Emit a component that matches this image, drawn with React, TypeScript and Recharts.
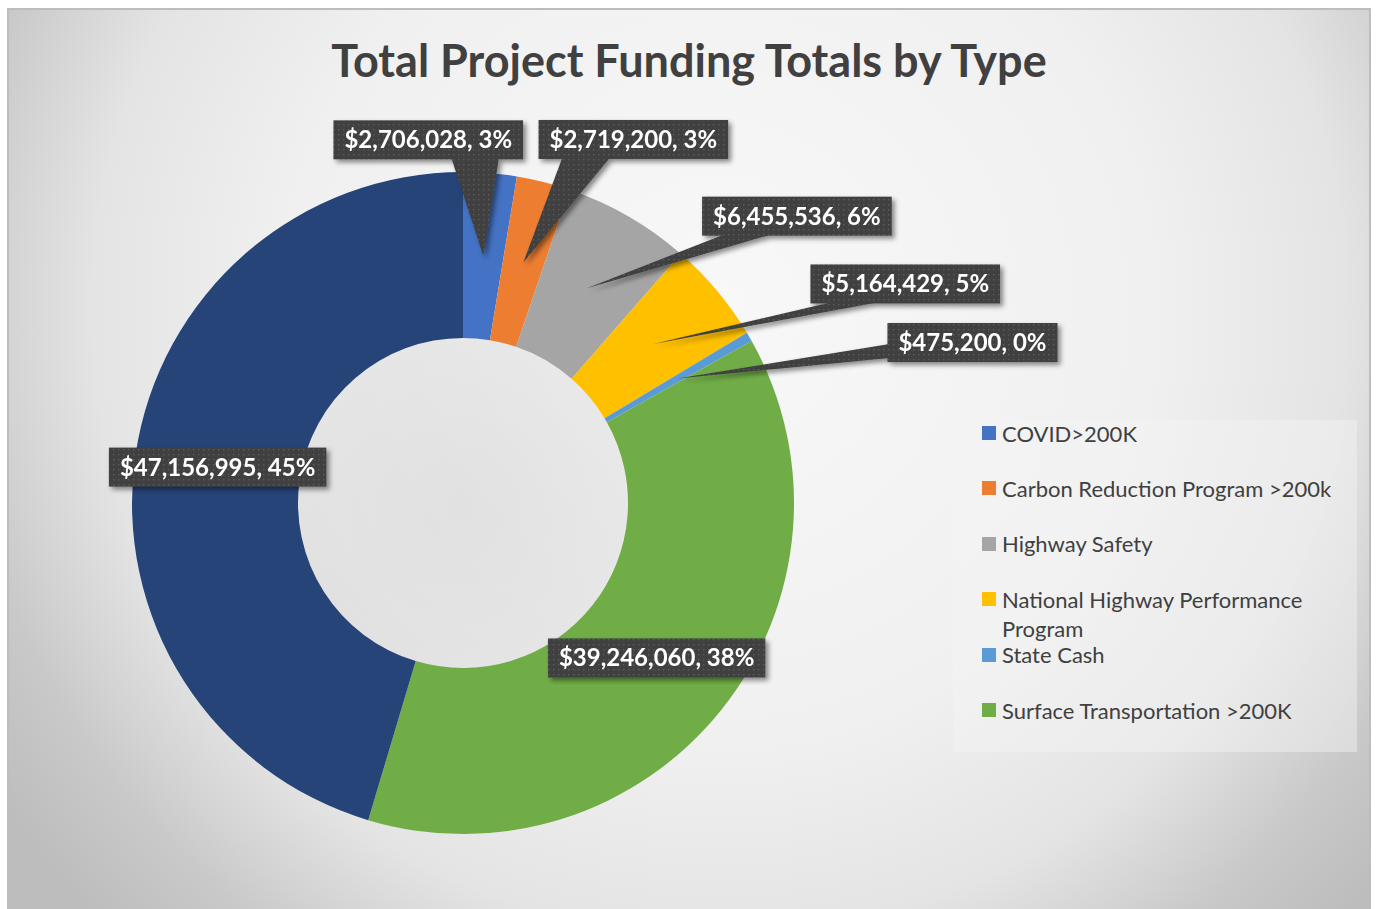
import React from 'react';
import { PieChart, Pie, Cell, Legend } from 'recharts';

const categories = [
  'COVID>200K',
  'Carbon Reduction Program >200k',
  'Highway Safety',
  'National Highway Performance Program',
  'State Cash',
  'Surface Transportation >200K',
  '',
];
const values = [2706028, 2719200, 6455536, 5164429, 475200, 39246060, 47156995];
const colors = ['#4472C4', '#ED7D31', '#A5A5A5', '#FFC000', '#5B9BD5', '#70AD47', '#264478'];
const legendLines: string[][] = [
  ['COVID>200K'],
  ['Carbon Reduction Program >200k'],
  ['Highway Safety'],
  ['National Highway Performance', 'Program'],
  ['State Cash'],
  ['Surface Transportation >200K'],
];

// callout offsets (box centre relative to the slice's mid-ring point); null = label sits on slice
const labelOffsets: ([number, number, 'bottom' | 'left'] | null)[] = [
  [-55, -116, 'bottom'],
  [110, -123, 'bottom'],
  [210, -72, 'bottom'],
  [252, -60, 'bottom'],
  [295, -36, 'left'],
  null,
  null,
];

const data = categories.map((name, i) => ({ name, value: values[i] }));

const RADIAN = Math.PI / 180;
const LABEL_FONT_SIZE = 24;
const FONT = 'Lato, "Open Sans", sans-serif';

let ctx: CanvasRenderingContext2D | null = null;
const measure = (text: string, font: string) => {
  if (!ctx) ctx = document.createElement('canvas').getContext('2d');
  if (!ctx) return text.length * 12;
  ctx.font = font;
  return ctx.measureText(text).width;
};

const DataLabel = (props: any) => {
  const { cx, cy, midAngle, innerRadius, outerRadius, index, value, percent } = props;
  const r = (innerRadius + outerRadius) / 2;
  const ax = cx + r * Math.cos(-midAngle * RADIAN);
  const ay = cy + r * Math.sin(-midAngle * RADIAN);
  const text = `$${Number(value).toLocaleString('en-US')}, ${Math.round(percent * 100)}%`;
  const tw = measure(text, `bold ${LABEL_FONT_SIZE}px Lato`);
  const w = tw + 22;
  const h = 39;
  const off = labelOffsets[index];
  const bcx = ax + (off ? off[0] : 0);
  const bcy = ay + (off ? off[1] : 0);
  const left = bcx - w / 2;
  const top = bcy - h / 2;
  let wedge: string | null = null;
  if (off) {
    if (off[2] === 'bottom') {
      const bx = Math.min(Math.max(ax, left + 48), left + w - 48);
      wedge = `${ax},${ay} ${bx - 24},${top + h - 2} ${bx + 24},${top + h - 2}`;
    } else {
      wedge = `${ax},${ay} ${left + 2},${top + 21} ${left + 2},${top + 35}`;
    }
  }
  return (
    <g filter="url(#lblShadow)">
      {wedge && <polygon points={wedge} fill="url(#dotPat)" />}
      <rect x={left} y={top} width={w} height={h} fill="url(#dotPat)" />
      <text
        x={left + 11}
        y={bcy + 8.5}
        fill="#ffffff"
        fontFamily={FONT}
        fontWeight={700}
        fontSize={LABEL_FONT_SIZE}
      >
        {text}
      </text>
    </g>
  );
};

const LegendBox = () => (
  <div
    style={{
      position: 'relative',
      width: 404,
      height: 332,
      background: 'rgba(245,245,245,0.45)',
      fontFamily: FONT,
      color: '#404040',
      fontSize: 22,
    }}
  >
    {legendLines.map((lines, i) => {
      const cyRow = 13 + i * 55.4;
      return (
        <React.Fragment key={i}>
          <div
            style={{
              position: 'absolute',
              left: 29,
              top: cyRow - 7,
              width: 14,
              height: 14,
              background: colors[i],
            }}
          />
          {lines.map((ln, j) => (
            <div
              key={j}
              style={{
                position: 'absolute',
                left: 49,
                top: cyRow - 14.5 + j * 29,
                lineHeight: '29px',
                whiteSpace: 'nowrap',
              }}
            >
              {ln}
            </div>
          ))}
        </React.Fragment>
      );
    })}
  </div>
);

export default function App() {
  return (
    <div
      style={{
        position: 'absolute',
        left: 7,
        top: 8,
        width: 1364,
        height: 901,
        boxSizing: 'border-box',
        borderTop: '2px solid #bdbdbd',
        borderLeft: '2px solid #bdbdbd',
        borderRight: '2px solid #bdbdbd',
        background:
          'radial-gradient(circle 190px at 454px 493px, rgba(0,0,0,0.07) 0px, rgba(0,0,0,0.05) 165px, rgba(0,0,0,0) 190px), radial-gradient(circle 870px at 710px 300px, #f8f8f8 0px, #f0f0f0 435px, #e4e4e4 626px, #d2d2d2 722px, #c9c9c9 766px, #bdbdbd 870px)',
        overflow: 'hidden',
      }}
    >
      <svg width="0" height="0" style={{ position: 'absolute' }}>
        <defs>
          <pattern id="dotPat" width="5" height="5" patternUnits="userSpaceOnUse">
            <rect width="5" height="5" fill="#404040" />
            <rect x="1" y="1" width="1.4" height="1.4" fill="#5c5c5c" />
          </pattern>
          <filter id="lblShadow" x="-20%" y="-20%" width="150%" height="160%">
            <feDropShadow dx="3" dy="3" stdDeviation="2.5" floodColor="#000" floodOpacity="0.45" />
          </filter>
        </defs>
      </svg>
      <div
        style={{
          position: 'absolute',
          left: 0,
          width: 1360,
          top: 24,
          textAlign: 'center',
          fontFamily: FONT,
          fontWeight: 700,
          fontSize: 45,
          color: '#404040',
          lineHeight: '52px',
          whiteSpace: 'nowrap',
        }}
      >
        Total Project Funding Totals by Type
      </div>
      <div style={{ position: 'absolute', left: -2, top: -2 }}>
        <PieChart width={1364} height={901} margin={{ top: 0, right: 0, bottom: 0, left: 0 }}>
          <Pie
            data={data}
            dataKey="value"
            nameKey="name"
            cx={456}
            cy={495}
            innerRadius={165}
            outerRadius={331}
            startAngle={90}
            endAngle={-270}
            stroke="none"
            isAnimationActive={false}
            labelLine={false}
            label={DataLabel}
          >
            {data.map((d, i) => (
              <Cell key={i} fill={colors[i]} />
            ))}
          </Pie>
          <Legend
            content={() => <LegendBox />}
            wrapperStyle={{ position: 'absolute', left: 946, top: 412, width: 404, height: 332 }}
          />
        </PieChart>
      </div>
    </div>
  );
}
